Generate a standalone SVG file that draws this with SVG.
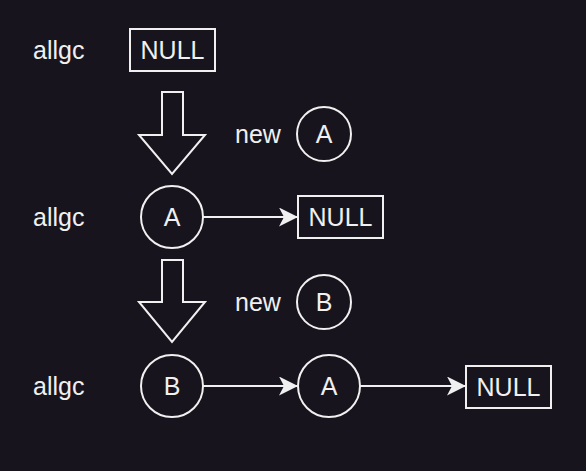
<svg xmlns="http://www.w3.org/2000/svg" width="586" height="471" viewBox="0 0 586 471">
<style>
text{font-family:"Liberation Sans",Arial,sans-serif;font-size:25px;fill:#f0f0f0;dominant-baseline:central;}
.c{text-anchor:middle;}
.s{fill:none;stroke:#f0f0f0;stroke-width:2;}
.n{fill:#18141d;stroke:#f0f0f0;stroke-width:2;}
.e{fill:none;stroke:#f0f0f0;stroke-width:2;marker-end:url(#ah);}
</style>
<defs>
<marker id="ah" viewBox="0 0 19 19" refX="18" refY="9.5" markerWidth="19" markerHeight="19" markerUnits="userSpaceOnUse" orient="auto">
<path d="M0,0 L19,9.5 L0,19 L5,9.5 Z" fill="#f0f0f0"/>
</marker>
</defs>
<rect width="586" height="471" fill="#18141d"/>
<g id="labels">
<text x="33" y="50">allgc</text>
<text x="33" y="217">allgc</text>
<text x="33" y="386">allgc</text>
<text x="235" y="134">new</text>
<text x="235" y="302">new</text>
</g>
<g id="connectors">
<path class="e" d="M203,217 H297"/>
<path class="e" d="M203,386 H297"/>
<path class="e" d="M360,386 H465"/>
</g>
<g id="null1"><rect class="n" x="130" y="29" width="85" height="42"/><text class="c" x="172.5" y="50">NULL</text></g>
<g id="step1"><path class="s" d="M162,92 H183 V135 H205 L172,174 L139,135 H162 Z"/></g>
<g id="newA"><circle class="n" cx="324" cy="134" r="27"/><text class="c" x="324" y="134">A</text></g>
<g id="a1"><circle class="n" cx="172" cy="217" r="31"/><text class="c" x="172" y="217">A</text></g>
<g id="null2"><rect class="n" x="298" y="196" width="85" height="42"/><text class="c" x="340.5" y="217">NULL</text></g>
<g id="step2"><path class="s" d="M162,260 H183 V302 H205 L172,342 L139,302 H162 Z"/></g>
<g id="newB"><circle class="n" cx="324" cy="302" r="27"/><text class="c" x="324" y="302">B</text></g>
<g id="b2"><circle class="n" cx="172" cy="386" r="31"/><text class="c" x="172" y="386">B</text></g>
<g id="a2"><circle class="n" cx="329" cy="386" r="31"/><text class="c" x="329" y="386">A</text></g>
<g id="null3"><rect class="n" x="466" y="366" width="85" height="42"/><text class="c" x="508.5" y="387">NULL</text></g>
</svg>
